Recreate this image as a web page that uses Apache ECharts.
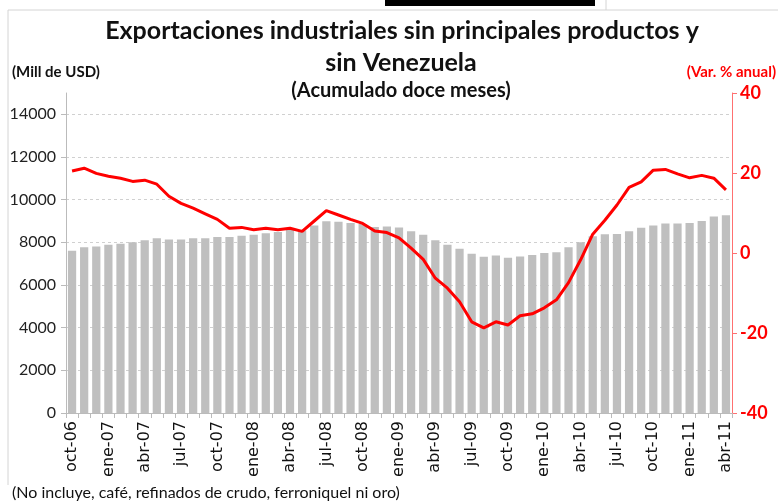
<!DOCTYPE html>
<html>
<head>
<meta charset="utf-8">
<script src="https://cdn.jsdelivr.net/npm/echarts@6/dist/echarts.min.js"></script>
<style>
  html, body { margin: 0; padding: 0; background: #fff; }
  #main { width: 778px; height: 502px; }
</style>
</head>
<body>
<div id="main"></div>
<script>
// months oct-06 .. abr-11
const monthNames = ['ene','feb','mar','abr','may','jun','jul','ago','sep','oct','nov','dic'];
const categories = [];
for (let y = 2006, m = 9; y < 2011 || m <= 3; ) {
  categories.push(monthNames[m] + '-' + String(y).slice(2));
  m++;
  if (m > 11) { m = 0; y++; }
}

// Exportaciones, acumulado doce meses (Mill de USD)
const exportValues = [
  7610, 7770, 7800, 7890, 7930, 8000, 8100, 8190, 8130, 8130,
  8190, 8190, 8250, 8250, 8310, 8350, 8420, 8490, 8600, 8560,
  8790, 8990, 8960, 8910, 8860, 8720, 8740, 8700, 8520, 8350,
  8100, 7890, 7700, 7470, 7330, 7380, 7280, 7340, 7410, 7500,
  7530, 7770, 8000, 8280, 8380, 8390, 8520, 8680, 8790, 8880,
  8880, 8910, 9000, 9210, 9270
];

// Var. % anual
const growthValues = [
  20.5, 21.2, 19.9, 19.2, 18.7, 17.9, 18.2, 17.2, 14.2, 12.4,
  11.2, 9.8, 8.4, 6.2, 6.4, 5.8, 6.2, 5.8, 6.2, 5.4,
  8.0, 10.6, 9.5, 8.4, 7.4, 5.5, 5.1, 3.8, 1.2, -1.6,
  -6.3, -8.8, -12.2, -17.2, -18.7, -17.2, -18.0, -15.7, -15.2, -13.7,
  -11.7, -7.4, -1.7, 4.7, 8.2, 12.0, 16.4, 17.8, 20.7, 20.9,
  19.8, 18.8, 19.4, 18.7, 15.8
];

const chart = echarts.init(document.getElementById('main'));

// last entry hides the grid line at the 15000 axis top
const gridLineColors = ['#d0d0d0','#d0d0d0','#d0d0d0','#d0d0d0','#d0d0d0','#d0d0d0','#d0d0d0','#d0d0d0','rgba(0,0,0,0)'];

function label(text, x, y, font, color, align) {
  return {
    type: 'text', x: x, y: y, z: 10,
    style: { text: text, font: font, fill: color || '#111', align: align || 'left', verticalAlign: 'middle' }
  };
}

const option = {
  backgroundColor: '#fff',
  animation: false,
  graphic: [
    { type: 'rect', shape: { x: 385, y: 0, width: 210, height: 6 }, style: { fill: '#000' } },
    { type: 'line', shape: { x1: 8, y1: 10, x2: 778, y2: 10 }, style: { stroke: '#d4d4d4', lineWidth: 1 } },
    { type: 'line', shape: { x1: 8, y1: 10, x2: 8, y2: 485 }, style: { stroke: '#d4d4d4', lineWidth: 1 } },
    { type: 'line', shape: { x1: 606, y1: 0, x2: 606, y2: 10 }, style: { stroke: '#d4d4d4', lineWidth: 1 } },
    label('Exportaciones industriales sin principales productos y', 402, 31, 'bold 25px Lato', '#111', 'center'),
    label('sin Venezuela', 401, 63, 'bold 25px Lato', '#111', 'center'),
    label('(Acumulado doce meses)', 401, 91, 'bold 20px Lato', '#111', 'center'),
    label('(Mill de USD)', 12, 72, 'bold 15px Lato'),
    label('(Var. % anual)', 776, 72, 'bold 15px Lato', '#ff0000', 'right'),
    label('(No incluye, café, refinados de crudo, ferroniquel ni oro)', 12, 493, '16px Lato')
  ],
  grid: { left: 66, right: 46, top: 93, bottom: 89, containLabel: false },
  xAxis: {
    type: 'category',
    data: categories,
    boundaryGap: true,
    axisLine: { lineStyle: { color: '#bbbbbb', width: 1 } },
    axisTick: { show: true, interval: 0, length: 5, lineStyle: { color: '#bbbbbb' } },
    axisLabel: {
      interval: 2, rotate: 90, margin: 8,
      fontFamily: 'DejaVu Sans', fontSize: 16, color: '#111'
    }
  },
  yAxis: [
    {
      type: 'value', min: 0, max: 15000, interval: 2000,
      axisLine: { show: true, lineStyle: { color: '#bbbbbb' } },
      axisTick: { show: true, length: 5, lineStyle: { color: '#bbbbbb' } },
      axisLabel: {
        showMaxLabel: false, fontFamily: 'Lato', fontSize: 16, color: '#222', margin: 10,
        formatter: v => String(v)
      },
      splitLine: { show: true, lineStyle: { color: gridLineColors, type: [3, 3], width: 1 } }
    },
    {
      type: 'value', min: -40, max: 40, interval: 20, position: 'right',
      axisLine: { show: true, lineStyle: { color: '#ff7070' } },
      axisTick: { show: true, length: 5, lineStyle: { color: '#ff7070' } },
      axisLabel: { fontFamily: 'Lato', fontWeight: 'bold', fontSize: 18, color: '#ff0000', margin: 8 },
      splitLine: { show: false }
    }
  ],
  series: [
    {
      name: 'Mill de USD', type: 'bar', yAxisIndex: 0,
      data: exportValues,
      barCategoryGap: '32%',
      itemStyle: { color: '#bfbfbf' }
    },
    {
      name: 'Var. % anual', type: 'line', yAxisIndex: 1,
      data: growthValues,
      showSymbol: false, smooth: false,
      lineStyle: { color: '#ff0000', width: 3 },
      z: 5
    }
  ]
};

chart.setOption(option);
</script>
</body>
</html>
